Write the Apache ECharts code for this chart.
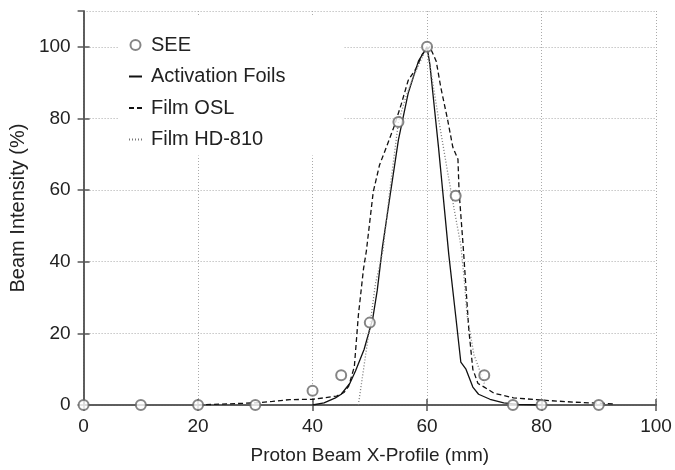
<!DOCTYPE html>
<html>
<head>
<meta charset="utf-8">
<script src="https://cdn.jsdelivr.net/npm/echarts@6/dist/echarts.min.js"></script>
<style>html,body{margin:0;padding:0;background:#fff;}#c{width:675px;height:470px;}</style>
</head>
<body>
<div id="c"></div>
<script>
var seriesNames = ['SEE', 'Activation Foils', 'Film OSL', 'Film HD-810'];
var xTicks = [0, 20, 40, 60, 80, 100];
var yTicks = [0, 20, 40, 60, 80, 100];

var seeData = [[0,0],[10,0],[20,0],[30,0],[40,4],[45,8.3],[50,23],[55,79],[60,100],[65,58.4],[70,8.3],[75,0],[80,0],[90,0]];

var foilsData = [[40,0],[42,0.6],[44,2],[45,3],[46.5,6],[47.5,9.5],[49,15.5],[50.5,24],[51.3,32],[52.2,44],[53.5,58],[55,74],[56.7,87],[58.5,96],[60,100],[60.5,95],[62,72],[63.8,42],[65,25],[65.9,12],[66.8,10],[68,5],[69,3],[71,1.6],[73.4,0.6],[76,0.2],[80,0]];

var oslData = [[20,0],[25,0.3],[30,0.6],[33,1],[36,1.5],[40,1.6],[42,2],[44.2,2.5],[45.5,3.5],[46.3,5.2],[47.3,10.7],[48,25],[48.9,38],[49.4,43],[50.6,59.5],[51.7,67],[52.9,72],[54.3,78],[55.5,84],[56.7,90.6],[58.1,94],[59.2,98],[60.5,100],[61.6,96],[62.4,88.7],[63.6,79.6],[64.5,72],[65.4,68.6],[65.6,59.5],[66.3,44.6],[66.8,32.8],[67.3,21],[68,10],[68.9,6],[70,5],[71.7,3.3],[75.1,2],[79.8,1.4],[85.6,0.8],[92.9,0.3]];

var hdData = [[48,0],[49,11],[50,22],[51,34],[52.3,43],[53.5,60],[55,79],[56.3,86],[57.7,92],[60,100],[61,90],[62,80],[63.6,65],[64.7,55],[65.9,44.6],[66.5,35],[67,25],[68.2,14],[69.4,8.8],[70,6]];

var textColor = '#222';
var axisColor = '#555';
var font = 'Liberation Sans, Arial, sans-serif';
var hidden = {opacity: 0};

var chart = echarts.init(document.getElementById('c'), null, {renderer: 'canvas'});
var option = {
  animation: false,
  backgroundColor: '#fff',
  grid: {left: 81, right: 19, top: 11, bottom: 61, containLabel: false},
  legend: {
    orient: 'vertical',
    left: 118,
    top: 16,
    padding: [19, 58, 6, 10],
    backgroundColor: '#fff',
    itemWidth: 13,
    itemHeight: 10,
    itemGap: 11.5,
    textStyle: {fontSize: 20, fontFamily: font, color: textColor, lineHeight: 20, padding: [0,0,0,4]},
    data: [
      {name: seriesNames[0], icon: 'emptyCircle'},
      {name: seriesNames[1], itemStyle: hidden},
      {name: seriesNames[2], itemStyle: hidden},
      {name: seriesNames[3], itemStyle: hidden}
    ]
  },
  xAxis: [{
    type: 'value', min: xTicks[0], max: xTicks[xTicks.length-1], interval: 20,
    name: 'Proton Beam X-Profile (mm)', nameLocation: 'middle', nameGap: 41,
    nameTextStyle: {fontSize: 19, fontFamily: font, color: textColor},
    axisLine: {show: true, onZero: false, lineStyle: {color: axisColor, width: 1.5}},
    axisTick: {show: true, inside: true, length: 6, lineStyle: {color: axisColor, width: 1.5}},
    axisLabel: {fontSize: 19, fontFamily: font, color: textColor, margin: 12},
    splitLine: {show: true, lineStyle: {color: '#aaa', type: [1, 2], width: 1}}
  }, {
    type: 'value', position: 'top', min: 0, max: 100, interval: 20,
    axisLine: {show: true, lineStyle: {color: axisColor, width: 1.5}},
    axisTick: {show: true, inside: true, length: 6, lineStyle: {color: axisColor, width: 1.5}},
    axisLabel: {show: false}, splitLine: {show: false}
  }],
  yAxis: [{
    type: 'value', min: yTicks[0], max: 110, interval: 20,
    name: 'Beam Intensity (%)', nameLocation: 'middle', nameGap: 52,
    nameTextStyle: {fontSize: 20, fontFamily: font, color: textColor},
    axisLine: {show: true, onZero: false, lineStyle: {color: axisColor, width: 1.5}},
    axisTick: {show: true, inside: true, length: 6, lineStyle: {color: axisColor, width: 1.5}},
    axisLabel: {fontSize: 19, fontFamily: font, color: textColor, margin: 13, showMaxLabel: false},
    splitLine: {show: true, lineStyle: {color: '#aaa', type: [1, 2], width: 1}}
  }, {
    type: 'value', position: 'right', min: 0, max: 110, interval: 20,
    axisLine: {show: true, lineStyle: {color: axisColor, width: 1.5}},
    axisTick: {show: true, inside: true, length: 6, lineStyle: {color: axisColor, width: 1.5}},
    axisLabel: {show: false}, splitLine: {show: false}
  }],
  series: [
    {
      name: seriesNames[0], type: 'scatter', data: seeData,
      symbol: 'emptyCircle', symbolSize: 10, z: 5,
      itemStyle: {color: '#666', borderColor: '#666', borderWidth: 1}
    },
    {
      name: seriesNames[1], type: 'line', data: foilsData, showSymbol: false, symbol: 'none',
      lineStyle: {color: '#111', width: 1.3, type: 'solid'}, itemStyle: {color: '#111'}
    },
    {
      name: seriesNames[2], type: 'line', data: oslData, showSymbol: false, symbol: 'none',
      lineStyle: {color: '#111', width: 1.3, type: [5, 3]}, itemStyle: {color: '#111'}
    },
    {
      name: seriesNames[3], type: 'line', data: hdData, showSymbol: false, symbol: 'none',
      lineStyle: {color: '#777', width: 1.3, type: [1, 2]}, itemStyle: {color: '#777'}
    }
  ]
};
chart.setOption(option);
</script>
</body>
</html>
